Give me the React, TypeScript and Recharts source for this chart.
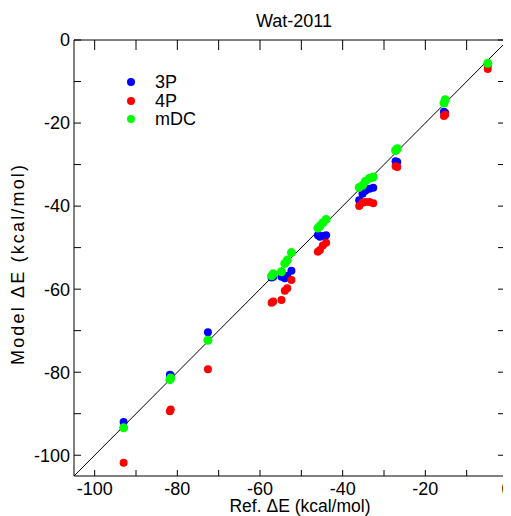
import { ScatterChart, Scatter, XAxis, YAxis, ReferenceLine } from "recharts";

// Wat-2011 set: reference interaction energies and three model predictions
const refDE = [-4.9, -15.5, -15.2, -27.2, -26.8, -36.0, -35.2, -34.5, -33.5, -32.6, -46.0, -45.5, -44.8, -44.0, -57.2, -56.8, -54.8, -54.0, -53.4, -52.4, -72.6, -81.8, -81.6, -93.0];
const model3P = [-6.0, -17.3, -17.6, -29.2, -29.4, -38.6, -37.0, -36.3, -35.8, -35.6, -47.0, -47.4, -47.2, -47.0, -57.2, -57.0, -57.0, -57.4, -56.8, -55.6, -70.4, -80.6, -80.8, -92.0];
const model4P = [-7.0, -18.3, -18.0, -30.4, -30.6, -40.0, -39.2, -39.0, -39.0, -39.3, -51.0, -50.6, -49.5, -48.8, -63.3, -63.0, -62.6, -60.4, -59.8, -57.8, -79.3, -89.4, -89.0, -101.8];
const modelMDC = [-5.6, -15.2, -14.4, -26.6, -26.2, -35.5, -35.0, -34.0, -33.3, -33.0, -45.3, -44.8, -44.0, -43.2, -56.8, -56.3, -55.8, -53.8, -53.0, -51.2, -72.3, -81.8, -81.4, -93.4];

const axisTicks = [-100, -90, -80, -70, -60, -50, -40, -30, -20, -10, 0];
const labeledTicks = [-100, -80, -60, -40, -20, 0];

const seriesNames = ["3P", "4P", "mDC"];
const seriesColors = ["#0000ff", "#ff0000", "#00ff00"];

const FONT = "'Liberation Sans', Arial, Helvetica, sans-serif";

const toPoints = (model: number[]) => refDE.map((x, i) => ({ x, y: model[i] }));

const showLabel = (v: number) => (labeledTicks.includes(v) ? String(v) : "");

const dot = (color: string, r: number) => (props: any) => (
  <circle cx={props.cx} cy={props.cy} r={r} fill={color} />
);

const tickStyle = { fill: "#000", fontSize: 18, fontFamily: FONT };

const App = () => {
  return (
    <div style={{ position: "relative", width: 503, height: 508, fontFamily: FONT }}>
      <ScatterChart width={503} height={508} margin={{ top: 31, right: 2, bottom: 0, left: 0 }}>
        <XAxis
          type="number"
          dataKey="x"
          domain={[-105, 0]}
          ticks={axisTicks}
          allowDataOverflow
          height={40}
          tickSize={-6}
          tickMargin={12}
          tickFormatter={showLabel}
          tick={tickStyle}
          axisLine={{ stroke: "#000" }}
          tickLine={{ stroke: "#000" }}
          label={{
            content: () => (
              <text x={292} y={504} textAnchor="middle" fontSize={17.5} fontFamily={FONT} fill="#000">
                Ref. ΔE (kcal/mol)
              </text>
            ),
          }}
        />
        <XAxis
          xAxisId="top"
          orientation="top"
          type="number"
          dataKey="x"
          domain={[-105, 0]}
          ticks={axisTicks}
          allowDataOverflow
          height={1}
          tickSize={-10}
          tickFormatter={() => ""}
          axisLine={{ stroke: "#000" }}
          tickLine={{ stroke: "#000" }}
          label={{
            content: () => (
              <text x={286} y={19} textAnchor="middle" fontSize={18} fontFamily={FONT} fill="#000">
                Wat-2011
              </text>
            ),
          }}
        />
        <YAxis
          type="number"
          dataKey="y"
          domain={[-105, 0]}
          ticks={axisTicks}
          allowDataOverflow
          width={66}
          tickSize={-7}
          tickMargin={11}
          tickFormatter={showLabel}
          tick={tickStyle}
          axisLine={{ stroke: "#000" }}
          tickLine={{ stroke: "#000" }}
          label={{
            content: () => (
              <text
                x={16}
                y={257}
                transform="rotate(-90 16 257)"
                textAnchor="middle"
                fontSize={18}
                fontFamily={FONT}
                fill="#000"
                textLength={200}
                lengthAdjust="spacing"
              >
                Model ΔE (kcal/mol)
              </text>
            ),
          }}
        />
        <YAxis
          yAxisId="right"
          orientation="right"
          type="number"
          dataKey="y"
          domain={[-105, 0]}
          ticks={axisTicks}
          allowDataOverflow
          width={1}
          tickSize={-10}
          tickFormatter={() => ""}
          axisLine={{ stroke: "#000" }}
          tickLine={{ stroke: "#000" }}
        />
        <ReferenceLine
          segment={[
            { x: -105, y: -105 },
            { x: 0, y: 0 },
          ]}
          stroke="#000"
          strokeWidth={1}
        />
        <Scatter name="3P" data={toPoints(model3P)} shape={dot(seriesColors[0], 4)} isAnimationActive={false} />
        <Scatter name="4P" data={toPoints(model4P)} shape={dot(seriesColors[1], 4)} isAnimationActive={false} />
        <Scatter name="mDC" data={toPoints(modelMDC)} shape={dot(seriesColors[2], 4.5)} isAnimationActive={false} />
      </ScatterChart>
      {/* legend, drawn the way the source plot has it */}
      {seriesNames.map((name, i) => (
        <div
          key={name}
          style={{
            position: "absolute",
            left: 119,
            top: 65 + i * 18.5,
            height: 18,
            display: "flex",
            alignItems: "center",
            fontSize: 18,
            lineHeight: "18px",
          }}
        >
          <span
            style={{
              width: 8,
              height: 8,
              borderRadius: "50%",
              background: seriesColors[i],
              marginRight: 20,
            }}
          />
          <span>{name}</span>
        </div>
      ))}
    </div>
  );
};

export default App;
